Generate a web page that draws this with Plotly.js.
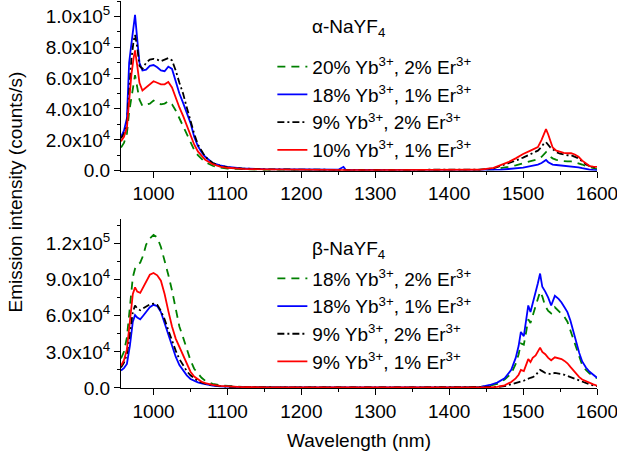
<!DOCTYPE html>
<html>
<head>
<meta charset="utf-8">
<script src="https://cdn.plot.ly/plotly-3.0.1.min.js"></script>
<style>html,body{margin:0;padding:0;background:#fff;}#chart{width:617px;height:462px;}</style>
</head>
<body>
<div id="chart"></div>
<script>
// ---------- top panel (alpha-NaYF4) ----------
var topWl = [956,960,964,967,970,973,975,978,981,985,990,995,1000,1005,1010,1015,1020,1025,1030,1035,1040,1045,1050,1055,1060,1065,1070,1080,1090,1100,1120,1150,1200,1250,1257,1260,1300,1350,1400,1440,1460,1470,1480,1490,1500,1510,1515,1520,1525,1528,1531,1534,1537,1540,1545,1550,1555,1560,1565,1570,1575,1580,1585,1590,1595,1600];
var topGreen = [15000,18000,24000,38000,47000,57000,62000,54000,46000,42000,42500,43500,45500,44500,43000,43500,45000,43000,39000,34000,29000,23000,18000,13500,10000,7500,5500,3200,2000,1400,900,600,400,400,400,400,400,400,400,500,900,1500,2500,3500,4800,6000,6800,7500,9000,10500,12000,10000,9000,8000,7000,6500,6200,6000,6000,5500,5000,4000,3000,2200,1500,1000];
var topBlue = [22000,26000,34000,70000,82000,95000,101000,85000,70000,65000,65500,68000,68500,67000,65000,64500,67500,66000,58000,50000,44000,38000,31000,22000,16000,12000,9000,5000,3400,2400,1500,1000,700,600,2500,600,500,500,500,500,600,700,1100,1500,2000,3000,3500,4000,5000,6000,7000,5500,4500,4000,3700,3500,3300,3100,3000,2700,2200,1600,1000,700,500,400];
var topBlack = [21000,24000,30000,55000,72000,84000,88000,80000,68000,66000,70000,72000,72500,72000,71000,72000,73000,71500,65000,57000,50000,41000,32000,24000,17000,12500,9000,5000,3200,2200,1400,900,600,500,600,500,500,500,600,700,1500,3000,4500,6500,8500,10500,12000,13000,15500,17500,18500,16500,15000,14000,12000,11000,10500,10000,10000,9000,8000,6000,4000,3000,2500,1500];
var topRed = [19000,22000,28000,48000,62000,73000,78000,68000,57000,52000,54000,56500,58000,57000,56000,56000,57500,54000,47000,41000,35500,29000,23000,17000,12500,9500,7000,4200,2700,1900,1200,800,500,400,500,400,400,400,500,600,1800,3500,5500,8000,10800,13000,14000,15300,20000,24000,27000,23500,18500,15000,13000,12000,11500,11300,11300,10500,9000,6500,4500,3000,2700,2500];
var topNames = ["20% Yb<sup>3+</sup>, 2% Er<sup>3+</sup>","18% Yb<sup>3+</sup>, 1% Er<sup>3+</sup>","9% Yb<sup>3+</sup>, 2% Er<sup>3+</sup>","10% Yb<sup>3+</sup>, 1% Er<sup>3+</sup>"];

// ---------- bottom panel (beta-NaYF4) ----------
var botWl = [956,960,964,968,972,975,978,982,986,990,995,1000,1005,1010,1015,1020,1025,1030,1035,1040,1045,1050,1055,1060,1065,1070,1080,1090,1100,1120,1150,1200,1250,1300,1350,1400,1440,1455,1465,1475,1484,1490,1494,1497,1501,1504,1507,1510,1513,1517,1520,1523,1526,1530,1534,1538,1543,1548,1552,1556,1560,1564,1568,1572,1576,1580,1585,1590,1595,1600];
var botGreen = [24500,30000,42000,65000,92000,99000,102000,104000,110000,119000,124000,127000,125000,117000,106000,94000,81000,66000,51000,42000,33000,23000,16000,12000,8500,6000,3500,2200,1600,1000,700,500,500,500,500,600,800,2000,3500,7000,12000,20000,28000,37000,36000,46000,57000,54000,60000,67000,74000,80000,76000,68000,64000,62000,67000,64000,61000,59000,55000,48000,41000,33000,26000,19000,15000,12000,10000,8000];
var botBlue = [14500,16500,20000,35000,55000,60500,58500,57000,60000,63500,67000,69000,68000,63000,54000,44000,35000,26000,19000,14500,10500,7500,5800,4700,3800,3000,2000,1400,1000,700,500,400,600,400,400,500,600,2500,4500,8000,15000,25000,35000,46500,43000,56000,68500,63000,70000,78000,87000,95000,84000,80000,75000,68500,76500,74000,71000,67000,63000,56000,47000,37000,29000,22000,17000,13500,11000,8500];
var botBlack = [17000,21000,28000,45000,63000,68500,66000,64500,66000,67500,69500,70000,69000,64000,57000,48000,39000,31000,24000,18500,14000,10500,8000,6000,4700,3600,2300,1500,1100,700,500,400,400,400,400,400,500,600,900,1500,3000,4000,5000,5500,6000,7000,8000,8500,9000,10500,13000,15000,14000,12500,12000,11500,12500,12000,11500,11000,10000,9000,8000,7000,6000,5000,4000,3000,2200,1500];
var botRed = [18500,23000,32000,55000,78000,83500,80000,79000,84000,89000,94000,95500,93500,89000,78000,64000,51000,41000,34000,26500,19000,13500,9500,7000,5200,4000,2500,1700,1200,800,500,400,400,400,400,400,400,500,1000,2200,5000,8000,11000,15000,14000,19000,24000,21500,25000,27000,30000,33500,30000,28000,25000,23000,25500,24500,24000,22500,20500,17500,14500,11500,9000,7000,5500,4000,3000,2000];
var botNames = ["18% Yb<sup>3+</sup>, 2% Er<sup>3+</sup>","18% Yb<sup>3+</sup>, 1% Er<sup>3+</sup>","9% Yb<sup>3+</sup>, 2% Er<sup>3+</sup>","9% Yb<sup>3+</sup>, 1% Er<sup>3+</sup>"];

// tick labels
var topYTicks = [0,20000,40000,60000,80000,100000];
var topYText = ["0.0","2.0x10<sup>4</sup>","4.0x10<sup>4</sup>","6.0x10<sup>4</sup>","8.0x10<sup>4</sup>","1.0x10<sup>5</sup>"];
var botYTicks = [0,30000,60000,90000,120000];
var botYText = ["0.0","3.0x10<sup>4</sup>","6.0x10<sup>4</sup>","9.0x10<sup>4</sup>","1.2x10<sup>5</sup>"];

var styles = [
  {color:'#008000', dash:'8px,6px'},
  {color:'#0000ff', dash:'solid'},
  {color:'#000000', dash:'7px,3px,2px,3px'},
  {color:'#ff0000', dash:'solid'}
];
var FONT = 'Liberation Sans, Arial, sans-serif';
var FS = 19;

function mk(x, y, name, st, xa, ya, lg) {
  return {x:x, y:y, name:name, type:'scatter', mode:'lines', xaxis:xa, yaxis:ya, legend:lg,
          line:{color:st.color, dash:st.dash, width:1.8}, hoverinfo:'skip'};
}
var topSeries = [topGreen, topBlue, topBlack, topRed];
var botSeries = [botGreen, botBlue, botBlack, botRed];
var data = [];
for (var i=0;i<4;i++) data.push(mk(topWl, topSeries[i], topNames[i], styles[i], 'x', 'y', 'legend'));
for (var j=0;j<4;j++) data.push(mk(botWl, botSeries[j], botNames[j], styles[j], 'x2', 'y2', 'legend2'));

var XR = [956, 1600];
function xax(anchor, extra) {
  var a = {anchor:anchor, range:XR, tickmode:'linear', tick0:1000, dtick:100, ticks:'outside', ticklen:6,
    tickwidth:1, tickcolor:'#000', showline:true, linecolor:'#000', linewidth:1, showgrid:false, zeroline:false,
    ticklabeloverflow:'allow', tickfont:{size:FS, family:FONT, color:'#000'},
    minor:{dtick:50, tick0:1000, ticks:'outside', ticklen:3, tickwidth:1, tickcolor:'#000'}};
  for (var k in extra) a[k] = extra[k];
  return a;
}
function yax(anchor, domain, range, tv, tt, minorD, extra) {
  var a = {anchor:anchor, domain:domain, range:range, tickmode:'array', tickvals:tv, ticktext:tt,
    ticks:'outside', ticklen:6, tickwidth:1, tickcolor:'#000', showline:true, linecolor:'#000', linewidth:1,
    showgrid:false, zeroline:false, tickfont:{size:FS, family:FONT, color:'#000'},
    minor:{dtick:minorD, tick0:0, ticks:'outside', ticklen:3, tickwidth:1, tickcolor:'#000'}};
  for (var k in extra) a[k] = extra[k];
  return a;
}
var topDom = [0.5615, 1], botDom = [0, 0.4359];

var layout = {
  width:617, height:462,
  margin:{l:121, r:20, t:1, b:74},
  paper_bgcolor:'#fff', plot_bgcolor:'#fff',
  font:{family:FONT, size:FS, color:'#000'},
  showlegend:true,
  xaxis: xax('y', {}),
  yaxis: yax('x', topDom, [0, 110000], topYTicks, topYText, 10000, {}),
  xaxis2: xax('y2', {title:{text:'Wavelength (nm)', font:{size:FS, family:FONT}, standoff:12}}),
  yaxis2: yax('x2', botDom, [0, 140000], botYTicks, botYText, 15000, {}),
  xaxis3: xax('y', {overlaying:'x', side:'top', ticks:'inside', showticklabels:false,
    minor:{dtick:50, tick0:1000, ticks:'inside', ticklen:3, tickwidth:1, tickcolor:'#000'}}),
  yaxis3: yax('x', topDom, [0, 110000], topYTicks, topYText, 10000, {overlaying:'y', side:'right', ticks:'inside', showticklabels:false,
    minor:{dtick:10000, tick0:0, ticks:'inside', ticklen:3, tickwidth:1, tickcolor:'#000'}}),
  xaxis4: xax('y2', {overlaying:'x2', side:'top', ticks:'inside', showticklabels:false,
    minor:{dtick:50, tick0:1000, ticks:'inside', ticklen:3, tickwidth:1, tickcolor:'#000'}}),
  yaxis4: yax('x2', botDom, [0, 140000], botYTicks, botYText, 15000, {overlaying:'y2', side:'right', ticks:'inside', showticklabels:false,
    minor:{dtick:15000, tick0:0, ticks:'inside', ticklen:3, tickwidth:1, tickcolor:'#000'}}),
  legend:{x:0.318, y:0.879, xanchor:'left', yanchor:'top', bgcolor:'rgba(0,0,0,0)', borderwidth:0,
    font:{size:FS, family:FONT}, tracegroupgap:0},
  legend2:{x:0.318, y:0.332, xanchor:'left', yanchor:'top', bgcolor:'rgba(0,0,0,0)', borderwidth:0,
    font:{size:FS, family:FONT}, tracegroupgap:0},
  annotations:[
    {text:'α-NaYF<sub>4</sub>', xref:'paper', yref:'paper', x:0.478, y:0.930, xanchor:'center', yanchor:'middle',
     showarrow:false, font:{size:FS, family:FONT}},
    {text:'β-NaYF<sub>4</sub>', xref:'paper', yref:'paper', x:0.478, y:0.357, xanchor:'center', yanchor:'middle',
     showarrow:false, font:{size:FS, family:FONT}},
    {text:'Emission intensity (counts/s)', xref:'paper', yref:'paper', x:-0.222, y:0.506, textangle:-90,
     xanchor:'center', yanchor:'middle', showarrow:false, font:{size:FS, family:FONT}}
  ]
};
Plotly.newPlot('chart', data, layout, {displayModeBar:false, staticPlot:true});
</script>
</body>
</html>
